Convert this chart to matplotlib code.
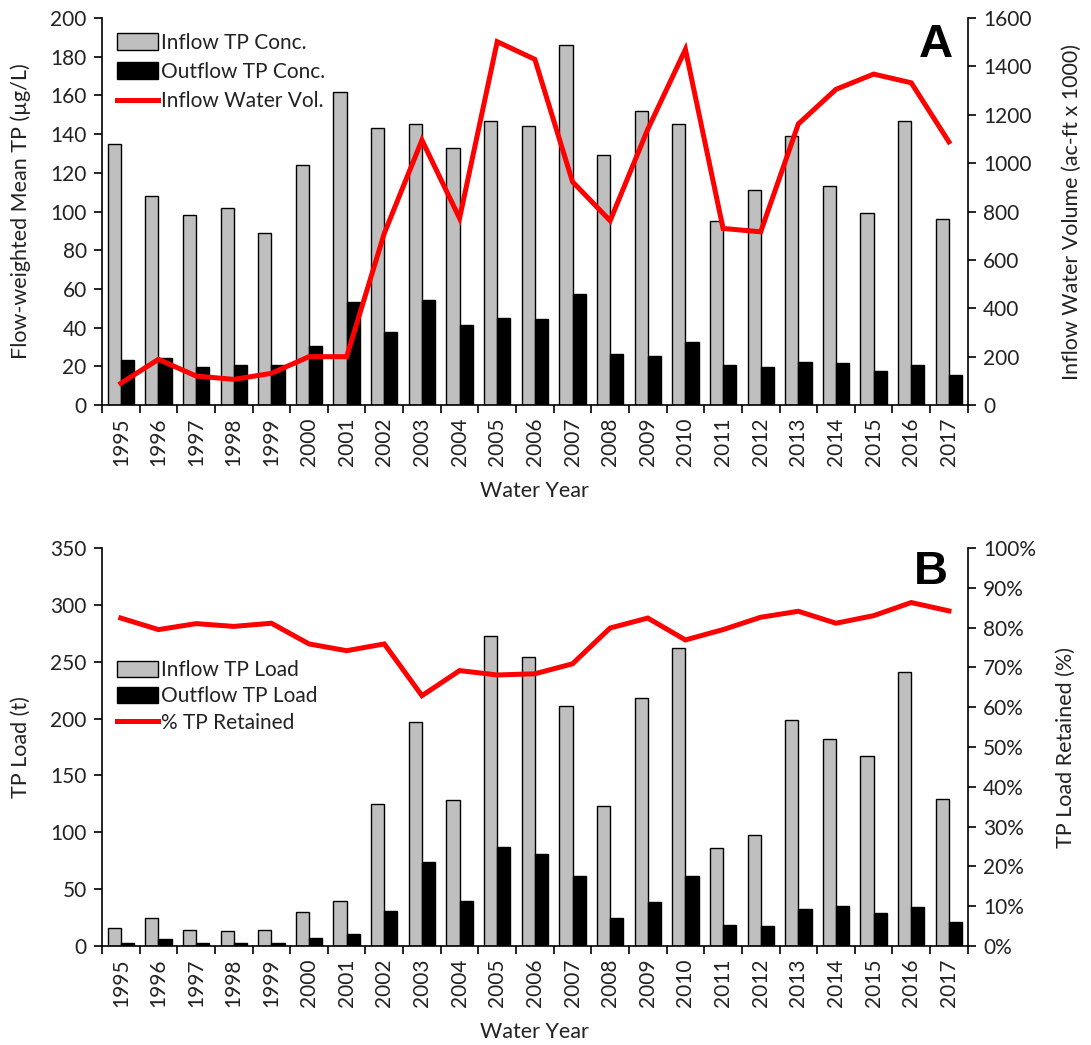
import numpy as np
import matplotlib
matplotlib.use("Agg")
from matplotlib import pyplot as plt
from matplotlib.ticker import PercentFormatter

plt.rcParams['font.family'] = ['Lato', 'DejaVu Sans']

years = [str(y) for y in range(1995, 2018)]

# panel A: flow-weighted mean TP (ug/L) and inflow volume (ac-ft x 1000)
inflow_conc = [135, 108, 98, 102, 89, 124, 162, 143, 145, 133, 147, 144, 186,
               129, 152, 145, 95, 111, 139, 113, 99, 147, 96]
outflow_conc = [23.5, 24.5, 19.5, 20.5, 20.5, 30.5, 53.5, 37.5, 54.5, 41.5, 45, 44.5, 57.5,
                26.5, 25.5, 32.5, 20.5, 19.5, 22, 21.5, 17.5, 20.5, 15.5]
inflow_vol = [90, 189, 120, 106, 131, 200, 200, 710, 1095, 772, 1502, 1429, 923,
              762, 1140, 1470, 730, 716, 1162, 1305, 1368, 1332, 1088]

# panel B: TP loads (t) and % retained
inflow_load = [16, 25, 14, 13, 14, 30, 40, 125, 197, 128, 273, 254, 211,
               123, 218, 262, 86, 98, 199, 182, 167, 241, 129]
outflow_load = [3, 6, 3, 3, 3, 7.5, 11, 31, 74, 40, 87, 81, 62,
                25, 39, 61.5, 18.5, 17.5, 33, 35.5, 29, 34.5, 21]
pct_retained = [82.4, 79.5, 81.0, 80.3, 81.1, 75.9, 74.2, 75.9, 62.9, 69.2, 68.1, 68.4, 70.9,
                79.9, 82.4, 76.9, 79.5, 82.6, 84.1, 81.1, 83.0, 86.3, 84.2]

GRAY = '#BFBFBF'
RED = '#FF0000'
TEXT = '#222222'
TICK_FS = 15
LABEL_FS = 15.5
LEG_FS = 15

fig = plt.figure(figsize=(10.91, 10.45), dpi=100)
axA = fig.add_axes([0.0935, 0.6124, 0.7935, 0.3704])
axB = fig.add_axes([0.0935, 0.0947, 0.7935, 0.3809])

x = np.arange(len(years))
w = 0.35


def draw_panel(ax, inflow, outflow, line, labels, ymax, ystep, y2max, y2step):
    b1 = ax.bar(x - w / 2, inflow, w, color=GRAY, edgecolor='black', linewidth=1.0,
                label=labels[0])
    b2 = ax.bar(x + w / 2, outflow, w, color='black', edgecolor='black', linewidth=1.0,
                label=labels[1])
    ax.set_xlim(-0.5, len(years) - 0.5)
    ax.set_ylim(0, ymax)
    ax.set_yticks(np.arange(0, ymax + 1, ystep))
    ax.set_xticks(x)
    ax.set_xticklabels(years, rotation=90, fontsize=TICK_FS, color=TEXT)
    ax.set_xticks(np.arange(-0.5, len(years), 1), minor=True)
    ax.tick_params(axis='x', which='major', length=0, pad=9)
    ax.tick_params(axis='x', which='minor', length=6, width=1.2, direction='out')
    ax.tick_params(axis='y', length=6, width=1.2, direction='out', labelsize=TICK_FS,
                   labelcolor=TEXT, pad=5)
    ax.spines['top'].set_visible(False)
    ax.spines['right'].set_visible(False)
    for s in ('left', 'bottom'):
        ax.spines[s].set_linewidth(1.2)
    ax.set_xlabel('Water Year', fontsize=LABEL_FS, color=TEXT, labelpad=11)

    tw = ax.twinx()
    l1, = tw.plot(x, line, color=RED, linewidth=3.6, solid_joinstyle='miter',
                  label=labels[2])
    tw.set_ylim(0, y2max)
    tw.set_yticks(np.arange(0, y2max + 1e-9, y2step))
    tw.tick_params(axis='y', length=6, width=1.2, direction='out', labelsize=TICK_FS,
                   labelcolor=TEXT, pad=5)
    tw.spines['top'].set_visible(False)
    tw.spines['left'].set_visible(False)
    tw.spines['bottom'].set_visible(False)
    tw.spines['right'].set_linewidth(1.2)
    return tw, [b1, b2, l1]


legend_kw = dict(loc='upper left', frameon=False, fontsize=LEG_FS, labelcolor=TEXT,
                 handlelength=2.0, handleheight=0.85, handletextpad=0.15,
                 borderaxespad=0.3)

twA, hA = draw_panel(axA, inflow_conc, outflow_conc, inflow_vol,
                     ['Inflow TP Conc.', 'Outflow TP Conc.', 'Inflow Water Vol.'],
                     200, 20, 1600, 200)
axA.set_ylabel('Flow-weighted Mean TP (µg/L)', fontsize=LABEL_FS, color=TEXT, labelpad=14)
twA.set_ylabel('Inflow Water Volume (ac-ft x 1000)', fontsize=LABEL_FS, color=TEXT,
               labelpad=22)
twA.legend(handles=hA, bbox_to_anchor=(0.0, 1.0), labelspacing=0.45, **legend_kw)
twA.text(0.963, 0.93, 'A', transform=axA.transAxes, fontsize=34, fontweight='bold',
         ha='center', va='center', family='Liberation Sans')

twB, hB = draw_panel(axB, inflow_load, outflow_load, pct_retained,
                     ['Inflow TP Load', 'Outflow TP Load', '% TP Retained'],
                     350, 50, 100, 10)
twB.yaxis.set_major_formatter(PercentFormatter(decimals=0))
axB.set_ylabel('TP Load (t)', fontsize=LABEL_FS, color=TEXT, labelpad=14)
twB.set_ylabel('TP Load Retained (%)', fontsize=LABEL_FS, color=TEXT, labelpad=14)
twB.legend(handles=hB, bbox_to_anchor=(0.0, 0.755), labelspacing=0.3, **legend_kw)
twB.text(0.957, 0.94, 'B', transform=axB.transAxes, fontsize=34, fontweight='bold',
         ha='center', va='center', family='Liberation Sans')

fig.savefig('out.png', dpi=100)
